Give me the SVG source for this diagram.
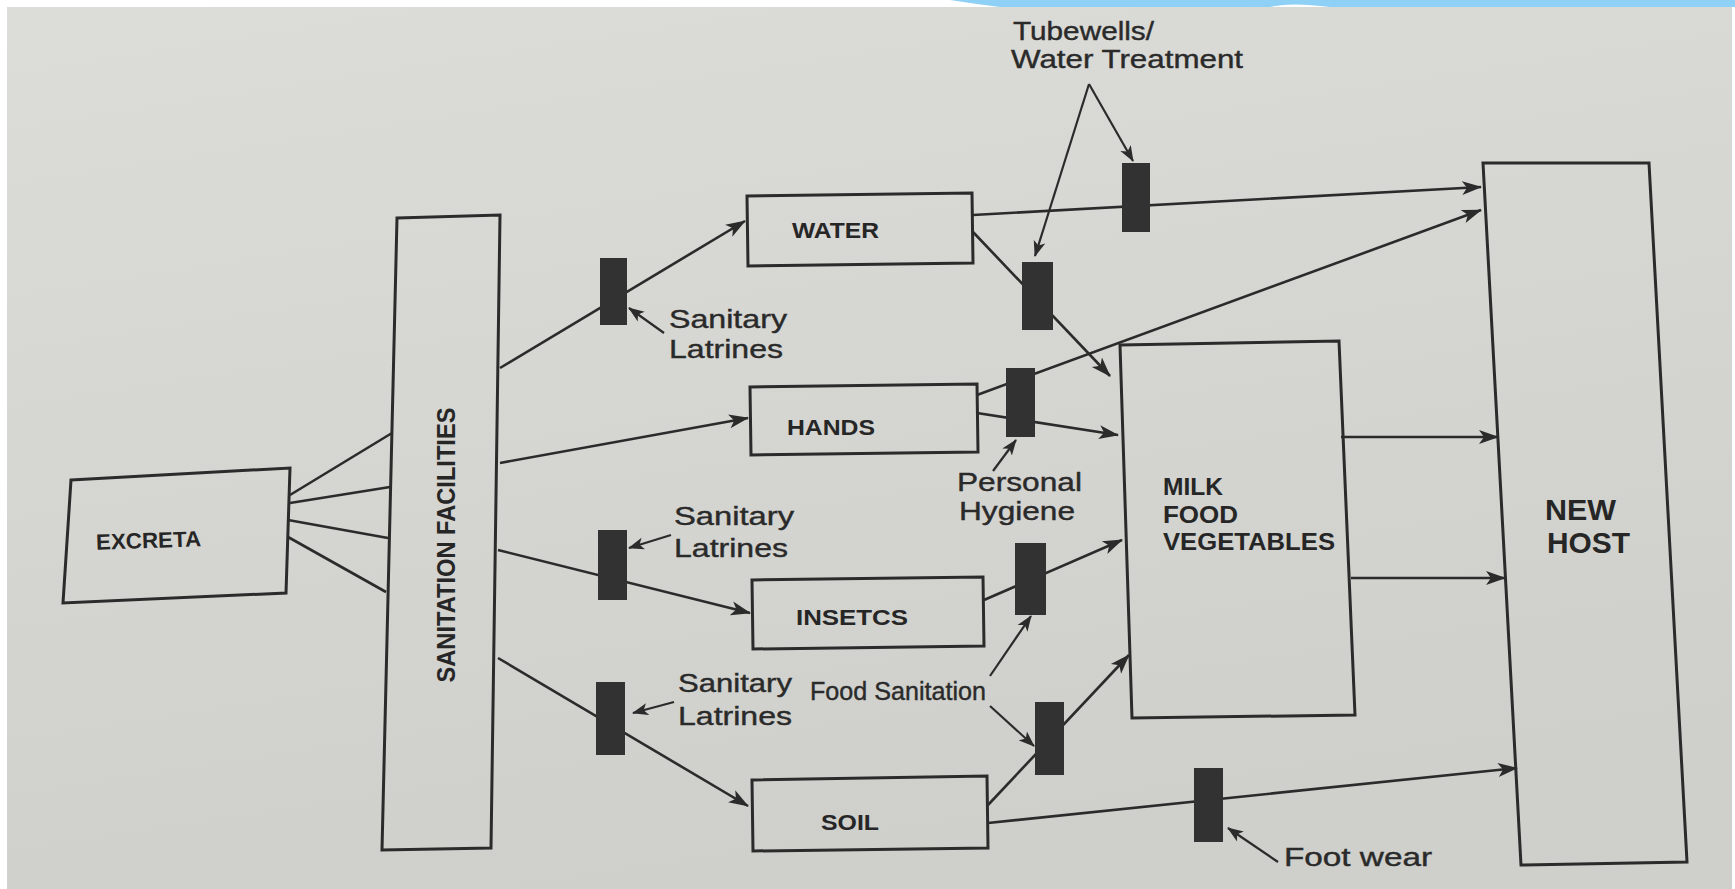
<svg xmlns="http://www.w3.org/2000/svg" width="1735" height="889" viewBox="0 0 1735 889">
<defs>
<linearGradient id="paper" x1="0" y1="0" x2="0.3" y2="1">
<stop offset="0" stop-color="#dcdcd8"/>
<stop offset="1" stop-color="#cfcfcb"/>
</linearGradient>
<marker id="ah" markerUnits="userSpaceOnUse" markerWidth="22" markerHeight="16" refX="19" refY="8" orient="auto">
<path d="M0,1 L20,8 L0,15 L5,8 z" fill="#2b2b2b"/>
</marker>
<marker id="as" markerUnits="userSpaceOnUse" markerWidth="18" markerHeight="14" refX="15" refY="7" orient="auto">
<path d="M0,1 L16,7 L0,13 L4,7 z" fill="#2b2b2b"/>
</marker>
</defs>
<style>
.box{fill:none;stroke:#2b2b2b;stroke-width:3;stroke-linejoin:miter}
.bar{fill:#323232}
.ln{stroke:#2b2b2b;stroke-width:2.6;fill:none}
.ln2{stroke:#2b2b2b;stroke-width:2.2;fill:none}
.cap{font-family:"Liberation Sans",Arial,sans-serif;font-weight:bold;fill:#262626}
.lab{font-family:"Liberation Sans",Arial,sans-serif;fill:#2a2a2a;font-size:26px;stroke:#2a2a2a;stroke-width:0.4}
</style>
<rect width="1735" height="889" fill="#ffffff"/>
<rect x="7" y="7" width="1725" height="882" fill="url(#paper)"/>
<path d="M950,0 L1735,0 L1735,7 L1330,7 Q1290,2 1270,7 L1000,7 Q975,4 950,0 z" fill="#8fd0f6"/>

<g id="connectors">
<line class="ln" x1="290" y1="495" x2="392" y2="433"/>
<line class="ln" x1="290" y1="503" x2="390" y2="487"/>
<line class="ln" x1="288" y1="520" x2="388" y2="538"/>
<line class="ln" x1="288" y1="537" x2="386" y2="592"/>
<line class="ln" x1="500" y1="368" x2="745" y2="221" marker-end="url(#ah)"/>
<line class="ln" x1="500" y1="463" x2="748" y2="418" marker-end="url(#ah)"/>
<line class="ln" x1="498" y1="550" x2="750" y2="613" marker-end="url(#ah)"/>
<line class="ln" x1="498" y1="658" x2="748" y2="806" marker-end="url(#ah)"/>
<line class="ln" x1="973" y1="215" x2="1481" y2="187" marker-end="url(#ah)"/>
<line class="ln" x1="973" y1="232" x2="1110" y2="376" marker-end="url(#ah)"/>
<line class="ln" x1="977" y1="395" x2="1481" y2="210" marker-end="url(#ah)"/>
<line class="ln" x1="977" y1="413" x2="1118" y2="435" marker-end="url(#ah)"/>
<line class="ln" x1="984" y1="600" x2="1122" y2="540" marker-end="url(#ah)"/>
<line class="ln" x1="988" y1="805" x2="1129" y2="655" marker-end="url(#ah)"/>
<line class="ln" x1="988" y1="823" x2="1517" y2="768" marker-end="url(#ah)"/>
<line class="ln" x1="1341" y1="437" x2="1498" y2="437" marker-end="url(#ah)"/>
<line class="ln" x1="1351" y1="578" x2="1505" y2="578" marker-end="url(#ah)"/>
<line class="ln2" x1="1089" y1="84" x2="1133" y2="161" marker-end="url(#as)"/>
<line class="ln2" x1="1089" y1="84" x2="1035" y2="256" marker-end="url(#as)"/>
<line class="ln2" x1="664" y1="333" x2="629" y2="308" marker-end="url(#as)"/>
<line class="ln2" x1="993" y1="471" x2="1016" y2="440" marker-end="url(#as)"/>
<line class="ln2" x1="671" y1="535" x2="629" y2="548" marker-end="url(#as)"/>
<line class="ln2" x1="990" y1="676" x2="1031" y2="616" marker-end="url(#as)"/>
<line class="ln2" x1="990" y1="706" x2="1034" y2="746" marker-end="url(#as)"/>
<line class="ln2" x1="674" y1="702" x2="633" y2="713" marker-end="url(#as)"/>
<line class="ln2" x1="1278" y1="862" x2="1228" y2="828" marker-end="url(#as)"/>
</g>

<g id="bars">
<rect class="bar" x="600" y="258" width="27" height="67"/>
<rect class="bar" x="1122" y="163" width="28" height="69"/>
<rect class="bar" x="1022" y="262" width="31" height="68"/>
<rect class="bar" x="1006" y="368" width="29" height="69"/>
<rect class="bar" x="598" y="530" width="29" height="70"/>
<rect class="bar" x="1015" y="543" width="31" height="72"/>
<rect class="bar" x="596" y="682" width="29" height="73"/>
<rect class="bar" x="1035" y="702" width="29" height="73"/>
<rect class="bar" x="1194" y="768" width="29" height="74"/>
</g>

<g id="excreta">
<polygon class="box" points="71,480 290,468 286,593 63,603"/>
<text class="cap" x="96" y="548" font-size="22" textLength="105" lengthAdjust="spacingAndGlyphs" transform="rotate(-2 148 540)">EXCRETA</text>
</g>
<g id="sanitation-facilities">
<polygon class="box" points="397,218 500,215 491,848 382,850"/>
<text class="cap" font-size="25" text-anchor="middle" textLength="275" lengthAdjust="spacingAndGlyphs" transform="translate(455,545) rotate(-90)" x="0" y="0">SANITATION FACILITIES</text>
</g>
<g id="water">
<polygon class="box" points="747,196 972,193 973,263 748,266"/>
<text class="cap" x="792" y="238" font-size="22" textLength="87" lengthAdjust="spacingAndGlyphs">WATER</text>
</g>
<g id="hands">
<polygon class="box" points="750,387 977,384 978,452 751,455"/>
<text class="cap" x="787" y="435" font-size="22" textLength="88" lengthAdjust="spacingAndGlyphs">HANDS</text>
</g>
<g id="insects">
<polygon class="box" points="752,580 983,577 984,646 753,649"/>
<text class="cap" x="796" y="625" font-size="22" textLength="112" lengthAdjust="spacingAndGlyphs">INSETCS</text>
</g>
<g id="soil">
<polygon class="box" points="752,780 987,776 988,848 753,851"/>
<text class="cap" x="821" y="830" font-size="22" textLength="58" lengthAdjust="spacingAndGlyphs">SOIL</text>
</g>
<g id="milk-food-vegetables">
<polygon class="box" points="1120,345 1339,341 1355,715 1132,718"/>
<text class="cap" x="1163" y="495" font-size="23" textLength="60" lengthAdjust="spacingAndGlyphs">MILK</text>
<text class="cap" x="1163" y="523" font-size="23" textLength="75" lengthAdjust="spacingAndGlyphs">FOOD</text>
<text class="cap" x="1163" y="550" font-size="23" textLength="172" lengthAdjust="spacingAndGlyphs">VEGETABLES</text>
</g>
<g id="new-host">
<polygon class="box" points="1483,163 1649,163 1687,862 1521,865"/>
<text class="cap" x="1545" y="520" font-size="30" textLength="71" lengthAdjust="spacingAndGlyphs">NEW</text>
<text class="cap" x="1547" y="553" font-size="30" textLength="83" lengthAdjust="spacingAndGlyphs">HOST</text>
</g>

<g id="labels">
<text class="lab" x="1013" y="40" font-size="21" textLength="141" lengthAdjust="spacingAndGlyphs">Tubewells/</text>
<text class="lab" x="1011" y="68" font-size="21" textLength="232" lengthAdjust="spacingAndGlyphs">Water Treatment</text>
<text class="lab" x="669" y="328" textLength="118" lengthAdjust="spacingAndGlyphs">Sanitary</text>
<text class="lab" x="669" y="358" textLength="114" lengthAdjust="spacingAndGlyphs">Latrines</text>
<text class="lab" x="957" y="491" textLength="125" lengthAdjust="spacingAndGlyphs">Personal</text>
<text class="lab" x="959" y="520" textLength="116" lengthAdjust="spacingAndGlyphs">Hygiene</text>
<text class="lab" x="674" y="525" textLength="120" lengthAdjust="spacingAndGlyphs">Sanitary</text>
<text class="lab" x="674" y="557" textLength="114" lengthAdjust="spacingAndGlyphs">Latrines</text>
<text class="lab" x="678" y="692" textLength="114" lengthAdjust="spacingAndGlyphs">Sanitary</text>
<text class="lab" x="678" y="725" textLength="114" lengthAdjust="spacingAndGlyphs">Latrines</text>
<text class="lab" x="810" y="700" font-size="24" textLength="176" lengthAdjust="spacingAndGlyphs">Food Sanitation</text>
<text class="lab" x="1284" y="866" textLength="148" lengthAdjust="spacingAndGlyphs">Foot wear</text>
</g>
</svg>
